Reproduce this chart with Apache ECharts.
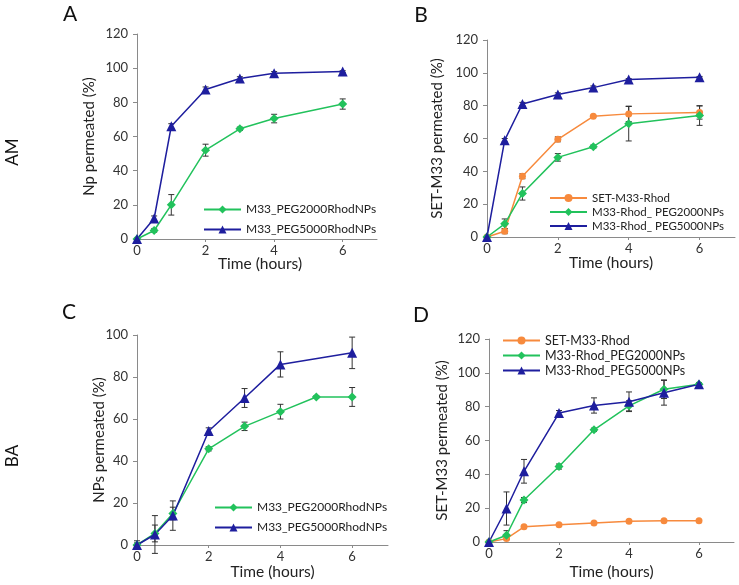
<!DOCTYPE html>
<html><head><meta charset="utf-8">
<script src="https://cdn.jsdelivr.net/npm/echarts@6/dist/echarts.min.js"></script>
<style>html,body{margin:0;padding:0;background:#fff}#c{width:739px;height:585px}</style>
</head><body><div id="c"></div>
<script>
// ---- Data ----
const timeA = [0, 0.5, 1, 2, 3, 4, 6];
const a2000 = [0, 5, 20, 52, 64.5, 70.5, 79];
const a2000Err = [0.5, 1, 6, 3.5, 1, 2.5, 3];
const a5000 = [0, 12, 66, 87.5, 94, 97, 98];
const a5000Err = [0.5, 1.5, 1.5, 1.5, 1, 1, 0.5];

const timeB = [0, 0.5, 1, 2, 3, 4, 6];
const bRhod = [0, 3.5, 37, 59.5, 73.5, 75, 75.8];
const bRhodErr = [0.5, 1.5, 1.5, 1.5, 0.5, 4.7, 4];
const b2000 = [0, 8, 26.5, 48.5, 55, 69, 74];
const b2000Err = [0.5, 3, 4, 2.3, 1, 10.5, 6];
const b5000 = [0, 59, 81, 86.8, 91, 96, 97.3];
const b5000Err = [0.5, 1, 1, 1, 1, 0.5, 0.5];

const timeC2000 = [0, 0.5, 1, 2, 3, 4, 5, 6];
const c2000 = [0, 5.5, 15, 45.8, 56.5, 63.5, 70.5, 70.5];
const c2000Err = [2, 4, 3, 1, 2, 3.5, 0.5, 4.5];
const timeC5000 = [0, 0.5, 1, 2, 3, 4, 6];
const c5000 = [0, 5, 14, 54.3, 70, 86, 91.5];
const c5000Err = [1, 9, 7, 1.5, 4.5, 6, 7.5];

const timeD = [0, 0.5, 1, 2, 3, 4, 5, 6];
const dRhod = [0, 2, 9, 10.2, 11.3, 12.3, 12.5, 12.5];
const dRhodErr = [0.3, 0.5, 0.8, 0.5, 0.5, 0.3, 0.3, 0.3];
const d2000 = [0, 4, 24.8, 44.6, 66.3, 80.5, 90.3, 93.2];
const d2000Err = [0.5, 2.7, 1.5, 1.5, 1, 3, 5.5, 1];
const d5000 = [0, 19.8, 41.8, 76.2, 80.7, 82.9, 88.2, 93.3];
const d5000Err = [0.5, 9.8, 7, 1.5, 4.5, 5.8, 7.3, 1];

const xTicks = [0, 2, 4, 6];
const panelLetters = ['A', 'B', 'C', 'D'];
const rowLabels = ['AM', 'BA'];
const yNames = ['Np permeated (%)', 'SET-M33 permeated (%)', 'NPs permeated (%)', 'SET-M33 permeated (%)'];
const xName = 'Time (hours)';

// ---- Styles ----
const GREEN = '#22c25c', BLUE = '#1e1e9e', ORANGE = '#f78a3d', ERR = '#333333';
const FONT = 'Lato, Liberation Sans, sans-serif';

function zip(x, y) { return x.map((v, i) => [v, y[i]]); }
function zip3(x, y, e) { return x.map((v, i) => [v, y[i], e[i]]); }

function errRender(params, api) {
  const x = api.value(0), y = api.value(1), e = api.value(2);
  const t = api.coord([x, y + e]), b = api.coord([x, y - e]);
  const w = 3;
  const st = { stroke: ERR, lineWidth: 1 };
  return { type: 'group', children: [
    { type: 'line', shape: { x1: t[0], y1: t[1], x2: b[0], y2: b[1] }, style: st },
    { type: 'line', shape: { x1: t[0] - w, y1: t[1], x2: t[0] + w, y2: t[1] }, style: st },
    { type: 'line', shape: { x1: b[0] - w, y1: b[1], x2: b[0] + w, y2: b[1] }, style: st }
  ] };
}

function lineSeries(name, color, symbol, size, data, idx) {
  return { type: 'line', name, data, xAxisIndex: idx, yAxisIndex: idx, z: 3,
    symbol, symbolSize: size, showSymbol: true, animation: false,
    lineStyle: { color, width: 1.5 }, itemStyle: { color } };
}
function errSeries(data, idx) {
  return { type: 'custom', renderItem: errRender, data, xAxisIndex: idx, yAxisIndex: idx, z: 2,
    animation: false, silent: true, clip: false, encode: { x: 0, y: [1] } };
}

const grids = [
  { left: 137, top: 34, width: 240, height: 205 },
  { left: 487, top: 40, width: 248, height: 197 },
  { left: 137, top: 335, width: 251, height: 210 },
  { left: 489, top: 339, width: 245, height: 203 }
];
const yMax = [120, 120, 100, 120];
const yNameGap = [40, 42, 30, 39];
const xNameGap = [17, 18, 19, 22];
const xNamePad = [[0,0,0,6],[0,0,0,0],[0,0,0,20],[0,0,0,0]];

const axisLineStyle = { lineStyle: { color: '#8a8a8a', width: 1 } };

const xAxes = grids.map((g, i) => ({
  type: 'value', gridIndex: i, min: 0, max: 7,
  axisLine: axisLineStyle,
  axisTick: { show: true, length: 3, customValues: xTicks, lineStyle: { color: '#8a8a8a' } },
  axisLabel: { customValues: xTicks, color: '#333', fontSize: 13, fontFamily: FONT, margin: 5 },
  splitLine: { show: false },
  name: xName, nameLocation: 'middle', nameGap: xNameGap[i], nameMoveOverlap: false,
  nameTextStyle: { color: '#222', fontSize: 15.5, fontFamily: FONT, padding: xNamePad[i] }
}));
const yAxes = grids.map((g, i) => ({
  type: 'value', gridIndex: i, min: 0, max: yMax[i], interval: 20,
  axisLine: { show: true, ...axisLineStyle },
  axisTick: { show: true, length: 4, lineStyle: { color: '#8a8a8a' } },
  axisLabel: { color: '#333', fontSize: 13, fontFamily: FONT, margin: 9 },
  splitLine: { show: false },
  name: yNames[i], nameLocation: 'middle', nameGap: yNameGap[i], nameRotate: 90, nameMoveOverlap: false,
  nameTextStyle: { color: '#222', fontSize: 15, fontFamily: FONT }
}));

const series = [
  // A
  errSeries(zip3(timeA, a2000, a2000Err), 0),
  errSeries(zip3(timeA, a5000, a5000Err), 0),
  lineSeries('M33_PEG2000RhodNPs', GREEN, 'diamond', 9, zip(timeA, a2000), 0),
  lineSeries('M33_PEG5000RhodNPs', BLUE, 'triangle', 10, zip(timeA, a5000), 0),
  // B
  errSeries(zip3(timeB, bRhod, bRhodErr), 1),
  errSeries(zip3(timeB, b2000, b2000Err), 1),
  errSeries(zip3(timeB, b5000, b5000Err), 1),
  lineSeries('SET-M33-Rhod', ORANGE, 'circle', 7, zip(timeB, bRhod), 1),
  lineSeries('M33-Rhod_ PEG2000NPs', GREEN, 'diamond', 9, zip(timeB, b2000), 1),
  lineSeries('M33-Rhod_ PEG5000NPs', BLUE, 'triangle', 10, zip(timeB, b5000), 1),
  // C
  errSeries(zip3(timeC2000, c2000, c2000Err), 2),
  errSeries(zip3(timeC5000, c5000, c5000Err), 2),
  lineSeries('M33_PEG2000RhodNPs ', GREEN, 'diamond', 9, zip(timeC2000, c2000), 2),
  lineSeries('M33_PEG5000RhodNPs ', BLUE, 'triangle', 10, zip(timeC5000, c5000), 2),
  // D
  errSeries(zip3(timeD, dRhod, dRhodErr), 3),
  errSeries(zip3(timeD, d2000, d2000Err), 3),
  errSeries(zip3(timeD, d5000, d5000Err), 3),
  lineSeries('SET-M33-Rhod ', ORANGE, 'circle', 7, zip(timeD, dRhod), 3),
  lineSeries('M33-Rhod_PEG2000NPs', GREEN, 'diamond', 9, zip(timeD, d2000), 3),
  lineSeries('M33-Rhod_PEG5000NPs', BLUE, 'triangle', 10, zip(timeD, d5000), 3)
];

function legend(names, left, top, gap, fs, lh) {
  return { data: names, left, top, orient: 'vertical', itemGap: gap, itemWidth: 37, itemHeight: 10,
    textStyle: { fontSize: fs, fontFamily: FONT, color: '#222', lineHeight: lh }, selectedMode: false };
}

const txt = (t, x, y, fs, rot) => ({ type: 'text', x, y, rotation: rot || 0,
  style: { text: t, fontSize: fs, fontFamily: FONT, fill: '#111', align: 'center', verticalAlign: 'middle' } });

const option = {
  backgroundColor: '#fff',
  animation: false,
  grid: grids.map(g => ({ ...g, containLabel: false, outerBoundsMode: 'none' })),
  xAxis: xAxes,
  yAxis: yAxes,
  series,
  legend: [
    legend(['M33_PEG2000RhodNPs', 'M33_PEG5000RhodNPs'], 198, 197, 5, 12, 15),
    legend(['SET-M33-Rhod', 'M33-Rhod_ PEG2000NPs', 'M33-Rhod_ PEG5000NPs'], 544, 186, 0, 11.5, 14),
    legend(['M33_PEG2000RhodNPs ', 'M33_PEG5000RhodNPs '], 209, 495, 5, 12, 15),
    legend(['SET-M33-Rhod ', 'M33-Rhod_PEG2000NPs', 'M33-Rhod_PEG5000NPs'], 497, 328, 0, 12.5, 15)
  ],
  graphic: [
    txt(panelLetters[0], 70, 14, 21),
    txt(panelLetters[1], 421, 15, 21),
    txt(panelLetters[2], 69, 312, 21),
    txt(panelLetters[3], 421, 315, 21),
    txt(rowLabels[0], 13, 152, 17, Math.PI / 2),
    txt(rowLabels[1], 13, 456, 17, Math.PI / 2)
  ]
};

const chart = echarts.init(document.getElementById('c'), null, { renderer: 'canvas' });
chart.setOption(option);
</script></body></html>
